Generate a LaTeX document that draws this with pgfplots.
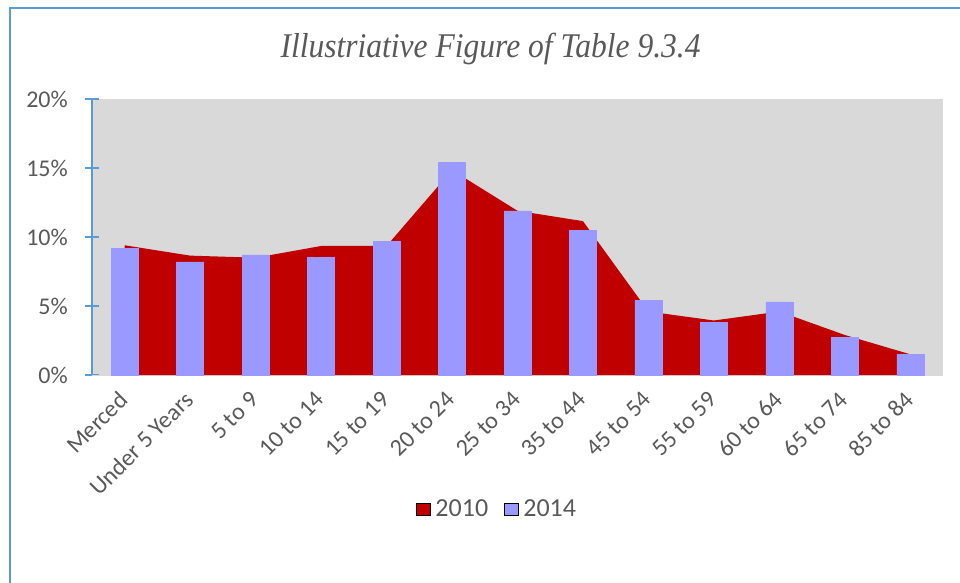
\documentclass[border=0pt]{standalone}
\usepackage{pgfplots}
\pgfplotsset{compat=1.18}
\usepackage{fontspec}
\setmainfont{Carlito}
\newfontfamily\titlefont{Liberation Serif}
\definecolor{c2010}{HTML}{C00000}
\definecolor{c2014}{HTML}{9999FF}
\definecolor{plotbg}{HTML}{D9D9D9}
\definecolor{txt}{HTML}{595959}
\definecolor{axblue}{HTML}{5B9BD5}
\begin{document}
\begin{tikzpicture}
\useasboundingbox (-69pt,-155.25pt) rectangle (651pt,281.25pt);
\draw[axblue, line width=1.1pt] (-61.5pt,-200pt) -- (-61.5pt,275.25pt) -- (700pt,275.25pt);
\node[anchor=base, text=txt, inner sep=0pt] at (298.9pt,237.75pt) {\scalebox{0.91}[1]{\titlefont\itshape\fontsize{26}{30}\selectfont Illustriative Figure of Table 9.3.4}};
\begin{axis}[
  at={(0pt,0pt)}, anchor=south west,
  width=638.25pt, height=207pt, scale only axis,
  xmin=-0.5, xmax=12.5, ymin=0, ymax=20,
  axis background/.style={fill=plotbg},
  axis x line*=bottom, axis y line*=left,
  x axis line style={draw=plotbg},
  y axis line style={draw=axblue, line width=0.8pt},
  xtick={0,...,12},
  xticklabels={Merced,Under 5 Years,5 to 9,10 to 14,15 to 19,20 to 24,25 to 34,35 to 44,45 to 54,55 to 59,60 to 64,65 to 74,85 to 84},
  x tick style={draw=none},
  ytick={0,5,10,15,20},
  yticklabels={0\%,5\%,10\%,15\%,20\%},
  y tick style={draw=axblue, line width=0.8pt},
  tick align=center, major tick length=11.25pt,
  ticklabel style={font=\fontsize{18}{20}\selectfont, text=txt},
  yticklabel style={xshift=-9pt},
  xticklabel style={xshift=1.5pt, yshift=-7.5pt, rotate=45, anchor=east},
  legend image code/.code={\fill[#1] (0pt,-4.5pt) rectangle (10pt,4.5pt);},
  legend style={at={(0.4765,-0.4855)}, anchor=center, draw=none, fill=none,
    legend columns=2, font=\fontsize{19.5}{21}\selectfont, text=txt,
    /tikz/every odd column/.append style={column sep=2pt},
    /tikz/every even column/.append style={column sep=10pt}},
]
\addplot[fill=c2010, draw=none, forget plot] coordinates {
 (0,9.4) (1,8.65) (2,8.5) (3,9.35) (4,9.35) (5,14.85) (6,11.9) (7,11.15)
 (8,4.6) (9,3.95) (10,4.6) (11,2.9) (12,1.5)} \closedcycle;
\addplot[ybar, bar width=20.25pt, fill=c2014, draw=c2014, forget plot] coordinates {
 (0,9.15) (1,8.2) (2,8.7) (3,8.5) (4,9.7) (5,15.4) (6,11.9) (7,10.5)
 (8,5.4) (9,3.8) (10,5.3) (11,2.7) (12,1.5)};
\addlegendimage{fill=c2010}
\addlegendentry{2010}
\addlegendimage{fill=c2014}
\addlegendentry{2014}
\end{axis}
\end{tikzpicture}
\end{document}
